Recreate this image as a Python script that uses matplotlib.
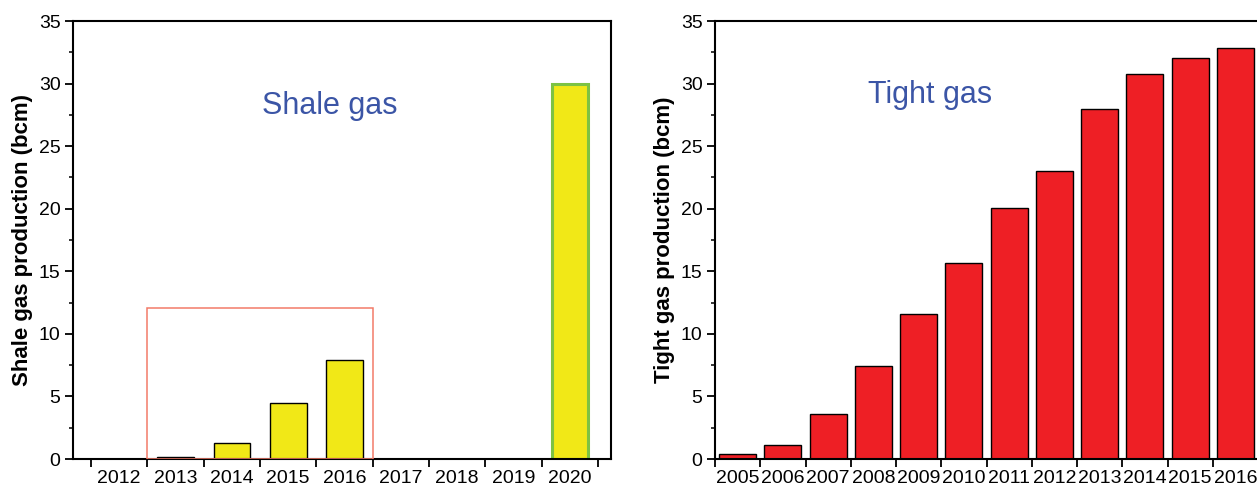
import matplotlib
matplotlib.use("Agg")
import matplotlib.pyplot as plt
from matplotlib.patches import Rectangle
from matplotlib.ticker import MultipleLocator

plt.rcParams["font.family"] = ["Liberation Sans", "DejaVu Sans"]

# data
shale_years = [2012, 2013, 2014, 2015, 2016, 2017, 2018, 2019, 2020]
shale_values = [0, 0.19, 1.31, 4.5, 7.92, 0, 0, 0, 30.0]
tight_years = [2005, 2006, 2007, 2008, 2009, 2010, 2011, 2012, 2013, 2014, 2015, 2016]
tight_values = [0.43, 1.15, 3.63, 7.44, 11.55, 15.65, 20.03, 23.04, 27.95, 30.75, 32.03, 32.85]
highlight_years = (2013, 2016)
highlight_top = 12.1

W, H = 1257, 486
fig = plt.figure(figsize=(W / 100, H / 100), dpi=100)

yellow = "#f1e817"
red = "#ee1f25"
blue = "#3b55a6"


def style_axis(ax, years):
    ax.set_ylim(0, 35)
    ax.yaxis.set_major_locator(MultipleLocator(5))
    ax.yaxis.set_minor_locator(MultipleLocator(2.5))
    ax.set_xticks(years)
    ax.set_xticklabels([str(y) for y in years])
    ax.set_xticks([y + 0.5 for y in [years[0] - 1] + years], minor=True)
    ax.tick_params(axis="x", which="major", length=0, pad=8, labelsize=14)
    ax.tick_params(axis="x", which="minor", length=6, width=1.3, direction="out")
    ax.tick_params(axis="y", which="major", length=6, width=1.3, labelsize=14, pad=3)
    ax.tick_params(axis="y", which="minor", length=3, width=1.1)
    ax.tick_params(right=False, top=False, which="both")
    for s in ax.spines.values():
        s.set_linewidth(1.5)


# left panel: shale gas
ax1 = fig.add_axes([73 / W, 1 - 459 / H, 538 / W, 438 / H])
colors1 = [yellow] * len(shale_years)
edges1 = ["black"] * (len(shale_years) - 1) + ["#7cc243"]
widths1 = [1.0] * (len(shale_years) - 1) + [2.2]
ax1.bar(shale_years, shale_values, width=0.65, color=colors1,
        edgecolor=edges1, linewidth=widths1, zorder=2)
ax1.set_xlim(2011.18, 2020.73)
style_axis(ax1, shale_years)
ax1.add_patch(Rectangle((highlight_years[0] - 0.5, 0),
                        highlight_years[1] - highlight_years[0] + 1, highlight_top,
                        fill=False, edgecolor="#f27a68", linewidth=1.1, zorder=3))
ax1.text(2015.73, 28.2, "Shale gas", color=blue, fontsize=22,
         ha="center", va="center")
ax1.set_ylabel("Shale gas production (bcm)", fontsize=16, fontweight="bold",
               labelpad=4)

# right panel: tight gas (cut off at the right edge in the reference)
ax2 = fig.add_axes([715 / W, 1 - 459 / H, 543 / W, 438 / H])
ax2.bar(tight_years, tight_values, width=0.82, color=red,
        edgecolor="black", linewidth=1.0, zorder=2)
ax2.set_xlim(2004.5, 2016.5)
style_axis(ax2, tight_years)
ax2.text(2009.26, 29.1, "Tight gas", color=blue, fontsize=22,
         ha="center", va="center")
ax2.set_ylabel("Tight gas production (bcm)", fontsize=16, fontweight="bold",
               labelpad=4)

fig.savefig("out.png", dpi=100)
